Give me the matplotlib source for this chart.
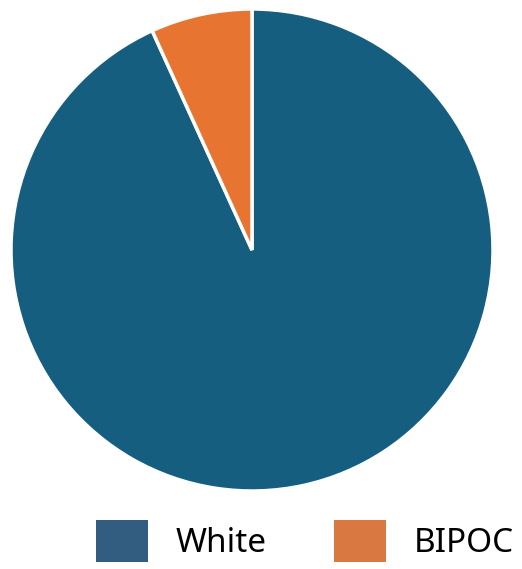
import matplotlib.pyplot as plt
from matplotlib.patches import Patch

labels = ['White', 'BIPOC']
shares = [93.2, 6.8]
pie_colors = ['#165e80', '#e87432']
legend_colors = ['#335d80', '#d97941']

fig = plt.figure(figsize=(5.22, 5.69), dpi=100)
ax = fig.add_axes([11 / 522, 78 / 569, 482 / 522, 482 / 569])
ax.pie(shares, colors=pie_colors, startangle=90, counterclock=False,
       radius=1, wedgeprops=dict(edgecolor='white', linewidth=2.5))
ax.set_xlim(-1, 1)
ax.set_ylim(-1, 1)
ax.set_aspect('equal')
ax.axis('off')

handles = [Patch(facecolor=c, edgecolor='none') for c in legend_colors]
fig.legend(handles, labels, loc='upper left', bbox_to_anchor=(96 / 522, 1 - 520 / 569),
           ncol=2, frameon=False, prop={'family': 'Noto Sans', 'size': 24},
           handlelength=1.56, handleheight=1.56, handletextpad=0.84,
           columnspacing=2.0, borderpad=0, borderaxespad=0)

fig.savefig('out.png', dpi=100)
